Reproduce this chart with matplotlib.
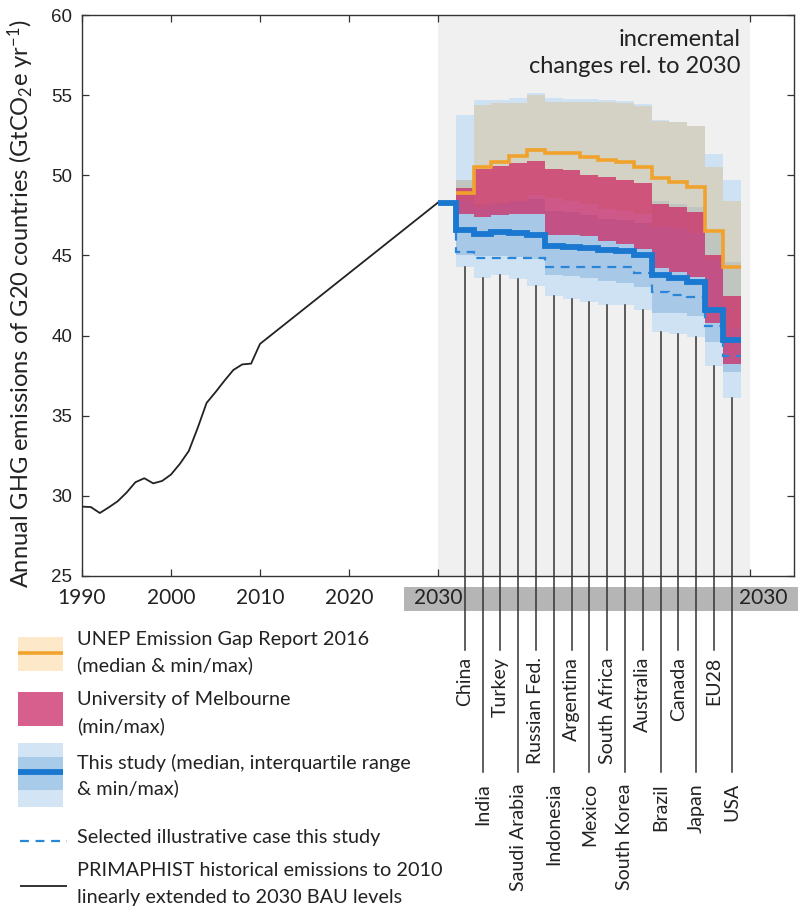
import numpy as np
import matplotlib.pyplot as plt
from matplotlib.patches import Rectangle
from matplotlib.lines import Line2D

plt.rcParams['font.family'] = ['Lato', 'DejaVu Sans']
plt.rcParams['mathtext.fontset'] = 'custom'
plt.rcParams['mathtext.rm'] = 'Lato'
plt.rcParams['mathtext.it'] = 'Lato:italic'

# PRIMAPHIST G20 emissions 1990-2010, extended linearly to the 2030 BAU level
hist_years = list(range(1990, 2011))
hist_vals = [29.33, 29.3, 28.93, 29.28, 29.66, 30.2, 30.85, 31.1, 30.78, 30.93,
             31.33, 32.0, 32.8, 34.24, 35.8, 36.47, 37.18, 37.85, 38.2, 38.25, 39.48]
bau_2030 = 48.3

countries = ['China', 'India', 'Turkey', 'Saudi Arabia', 'Russian Fed.', 'Indonesia',
             'Argentina', 'Mexico', 'South Africa', 'South Korea', 'Australia',
             'Brazil', 'Canada', 'Japan', 'EU28', 'USA']

# this study: min/max, interquartile range, median, illustrative case
study_min = [44.25, 43.6, 43.75, 43.56, 43.1, 42.44, 42.3, 42.1, 41.9, 41.9, 41.6,
             40.25, 40.1, 39.9, 38.1, 36.1]
study_max = [53.75, 54.7, 54.7, 54.8, 55.15, 54.8, 54.75, 54.75, 54.7, 54.65, 54.45,
             53.45, 53.35, 53.1, 51.3, 49.7]
study_q25 = [45.05, 44.95, 44.95, 44.9, 44.8, 43.8, 43.7, 43.6, 43.4, 43.3, 43.0,
             41.4, 41.4, 41.25, 39.6, 37.7]
study_q75 = [49.7, 48.2, 48.3, 48.4, 48.5, 47.8, 47.7, 47.5, 47.3, 47.2, 47.0,
             48.4, 48.2, 48.0, 46.4, 44.6]
study_med = [46.6, 46.35, 46.45, 46.4, 46.25, 45.6, 45.55, 45.45, 45.35, 45.3, 45.0,
             43.8, 43.6, 43.35, 41.6, 39.75]
illustrative = [45.2, 44.85, 44.85, 44.85, 44.85, 44.25, 44.25, 44.25, 44.25, 44.25,
                43.9, 42.7, 42.55, 42.4, 40.6, 38.75]

# UNEP Emission Gap Report 2016
unep_min = [48.4, 48.0, 48.2, 48.4, 48.75, 48.6, 48.4, 48.2, 47.9, 47.8, 47.6,
            46.8, 46.7, 46.4, 44.7, 40.5]
unep_med = [48.9, 50.5, 50.85, 51.2, 51.55, 51.4, 51.4, 51.15, 50.95, 50.85, 50.5,
            49.8, 49.6, 49.3, 46.55, 44.3]
unep_max = [49.7, 54.4, 54.5, 54.5, 55.0, 54.6, 54.6, 54.6, 54.6, 54.5, 54.3,
            53.4, 53.3, 53.1, 50.5, 48.4]

# University of Melbourne
melb_min = [47.6, 47.4, 47.5, 47.6, 47.6, 46.3, 46.3, 46.2, 45.9, 45.7, 45.4,
            44.2, 43.95, 43.65, 40.8, 38.25]
melb_max = [49.2, 50.4, 50.56, 50.75, 50.9, 50.4, 50.3, 50.0, 49.9, 49.7, 49.5,
            48.2, 48.0, 47.7, 45.0, 42.5]

W, H = 798, 908


def fx(px):
    return px / W


def fy(py):
    return 1 - py / H


fig = plt.figure(figsize=(W / 100, H / 100), dpi=100)
ax = fig.add_axes([fx(82), fy(576), fx(794) - fx(82), fy(15) - fy(576)])
ax.set_xlim(1990, 2070)
ax.set_ylim(25, 60)

n = len(countries)
edges = 2032 + 2 * np.arange(n + 1)
centres = edges[:-1] + 1
med_edges = np.concatenate([[2030], edges])

ax.axvspan(2030, 2065, color='#f0f0f0', lw=0, zorder=0)

hist_x = hist_years + [2030]
hist_y = hist_vals + [bau_2030]
ax.plot(hist_x, hist_y, color='#222222', lw=1.3, zorder=3)

ax.stairs(study_max, edges, baseline=study_min, fill=True, color='#cfe2f3', lw=0, zorder=1)
ax.stairs(study_q75, edges, baseline=study_q25, fill=True, color='#a8c8e8', lw=0, zorder=2)
ax.stairs(unep_max, edges, baseline=unep_min, fill=True, color='#d9c499', alpha=0.5,
          lw=0, zorder=3)
ax.stairs(melb_max, edges, baseline=melb_min, fill=True, color='#ce1f5d', alpha=0.7,
          lw=0, zorder=4)
ax.stairs(unep_med, edges, baseline=None, color='#f0a22c', lw=2.6, zorder=5)
ax.stairs([bau_2030] + illustrative, med_edges, baseline=None, color='#2a86d8',
          lw=1.6, ls=(0, (4, 3)), zorder=6)
ax.stairs([bau_2030] + study_med, med_edges, baseline=None, color='#1b78d0',
          lw=4.2, zorder=7)

# country leader lines and labels below the axis
inv = ax.transData.inverted()
to_data = lambda py: inv.transform(fig.transFigure.transform((0, fy(py))))[1]
line_end = [to_data(650), to_data(772)]
text_top = [to_data(657), to_data(783)]
for i, (c, name) in enumerate(zip(centres, countries)):
    k = i % 2
    ax.plot([c, c], [study_min[i], line_end[k]], color='#333333', lw=1.1,
            clip_on=False, zorder=8)
    ax.text(c, text_top[k], name, rotation=90, ha='center', va='top',
            fontsize=14, color='#222222', clip_on=False)

ax.text(2064, 59.1, 'incremental\nchanges rel. to 2030', ha='right', va='top',
        fontsize=17, color='#222222', linespacing=1.3)

ax.set_xticks([1990, 2000, 2010, 2020, 2030, 2065])
ax.set_xticklabels(['1990', '2000', '2010', '2020', '2030', ''])
ax.set_yticks(np.arange(25, 61, 5))
ax.tick_params(direction='in', top=True, right=True, length=5, width=0.9,
               colors='#333333', labelcolor='#222222')
ax.tick_params(axis='x', labelsize=15, pad=9)
ax.tick_params(axis='y', labelsize=13.5, pad=7)
for lab in ax.get_yticklabels():
    lab.set_family('Liberation Sans')
for sp in ax.spines.values():
    sp.set_color('#333333')
    sp.set_linewidth(1.0)

ax.set_ylabel('Annual GHG emissions of G20 countries (GtCO$_2$e yr$^{-1}$)',
              fontsize=17, color='#222222')
ax.yaxis.set_label_coords((36 - 82) / (794 - 82), (576 - 304) / (576 - 15))

# grey band under the incremental part of the axis
fig.add_artist(Rectangle((fx(404), fy(611)), fx(798) - fx(404), fy(587) - fy(611),
                         transform=fig.transFigure, color='#b5b5b5', lw=0, zorder=-1))
fig.text(fx(763), fy(598), '2030', ha='center', va='center', fontsize=15,
         color='#222222')

# legend
def patch(x0, y0, x1, y1, col):
    fig.add_artist(Rectangle((fx(x0), fy(y1)), fx(x1) - fx(x0), fy(y0) - fy(y1),
                             transform=fig.transFigure, color=col, lw=0))


def hline(x0, x1, y, col, lw, ls='-'):
    fig.add_artist(Line2D([fx(x0), fx(x1)], [fy(y), fy(y)], transform=fig.transFigure,
                          color=col, lw=lw, ls=ls, solid_capstyle='butt',
                          dash_capstyle='butt'))


patch(18, 637, 63, 671, '#fde9ca')
hline(18, 63, 653, '#f0a22c', 2.6)
patch(18, 692, 63, 726, '#d65f8e')
patch(18, 743, 63, 807, '#d3e5f5')
patch(18, 757, 63, 790, '#a9cbea')
hline(18, 63, 772, '#1b78d0', 4.2)
hline(20, 67, 841, '#2a86d8', 1.6, (0, (4, 3)))
hline(20, 67, 886, '#222222', 1.3)

legend_text = [
    (639, 'UNEP Emission Gap Report 2016'), (665, '(median & min/max)'),
    (700, 'University of Melbourne'), (726, '(min/max)'),
    (763, 'This study (median, interquartile range'), (788, '& min/max)'),
    (838, 'Selected illustrative case this study'),
    (870, 'PRIMAPHIST historical emissions to 2010'),
    (897, 'linearly extended to 2030 BAU levels'),
]
for py, s in legend_text:
    fig.text(fx(77), fy(py), s, ha='left', va='center', fontsize=14.3, color='#222222')

fig.savefig('out.png', dpi=100)
